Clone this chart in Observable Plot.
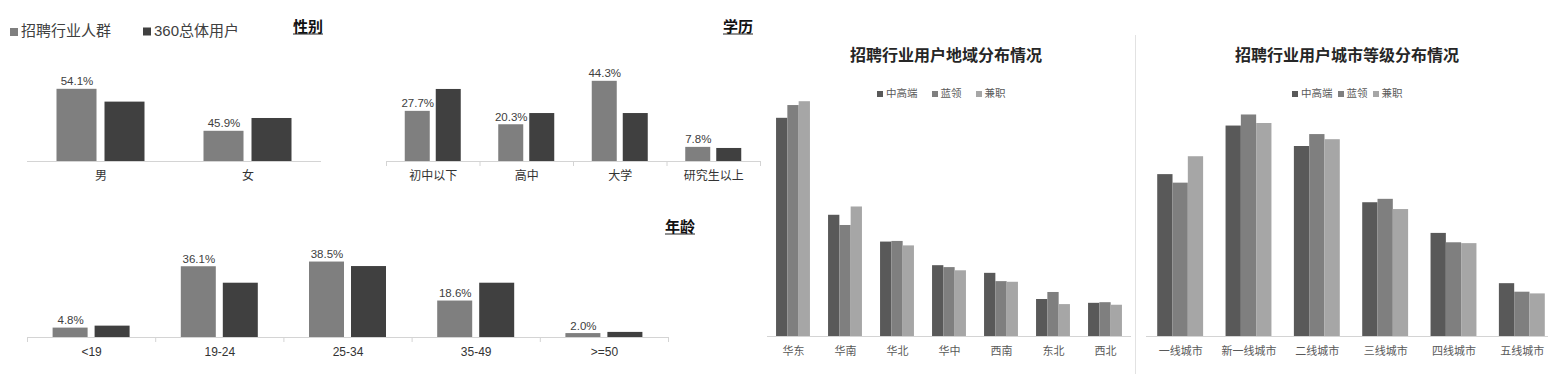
<!DOCTYPE html>
<html><head><meta charset="utf-8">
<script src="https://cdn.jsdelivr.net/npm/d3@7"></script>
<script src="https://cdn.jsdelivr.net/npm/@observablehq/plot@0.6"></script>
<style>
body{margin:0;background:#fff;}
#root{position:relative;width:1548px;height:374px;overflow:hidden;background:#fff;font-family:"Liberation Sans","Noto Sans CJK SC",sans-serif;color:#404040;}
.c{position:absolute;white-space:nowrap;transform:translate(-50%,-50%);line-height:1;}
.l{position:absolute;white-space:nowrap;transform:translate(0,-50%);line-height:1;}
.ttl{font-weight:bold;font-size:15px;color:#111;font-family:"Noto Sans CJK SC",sans-serif;border-bottom:1px solid #222;padding-bottom:1px;}
.big{font-weight:bold;font-size:16px;color:#262626;font-family:"Noto Sans CJK SC",sans-serif;}
.sq{display:inline-block;vertical-align:middle;margin-right:3px;}
.leg{font-family:"Noto Sans CJK SC",sans-serif;}
</style></head>
<body><div id="root"></div>
<script>
// ---------- data ----------
const seriesTop = ["招聘行业人群", "360总体用户"];
const genderCats = ["男", "女"];
const genderRecruit = [54.1, 45.9];
const genderAll = [51.6, 48.4];
const eduCats = ["初中以下", "高中", "大学", "研究生以上"];
const eduRecruit = [27.7, 20.3, 44.3, 7.8];
const eduAll = [39.8, 26.5, 26.5, 7.2];
const ageCats = ["<19", "19-24", "25-34", "35-49", ">=50"];
const ageRecruit = [4.8, 36.1, 38.5, 18.6, 2.0];
const ageAll = [5.8, 27.7, 36.2, 27.7, 2.6];
const jobSeries = ["中高端", "蓝领", "兼职"];
const regionCats = ["华东", "华南", "华北", "华中", "西南", "东北", "西北"];
const regionHigh = [34.2, 19.0, 14.8, 11.1, 9.9, 5.8, 5.2];
const regionBlue = [36.2, 17.4, 14.9, 10.8, 8.6, 6.9, 5.3];
const regionPart = [36.8, 20.3, 14.2, 10.3, 8.5, 5.0, 4.9];
const cityCats = ["一线城市", "新一线城市", "二线城市", "三线城市", "四线城市", "五线城市"];
const cityHigh = [19.0, 24.7, 22.3, 15.7, 12.1, 6.2];
const cityBlue = [18.0, 26.0, 23.7, 16.1, 11.0, 5.2];
const cityPart = [21.1, 25.0, 23.1, 14.9, 10.9, 5.0];

const cRecruit = "#7f7f7f", cAll = "#404040";
const cHigh = "#595959", cBlue = "#7f7f7f", cPart = "#a6a6a6";

const root = document.getElementById("root");

function grouped(cfg) {
  const {cats, series, left, top, width, height, x0, x1, y0, y1, ppu, baseY, bw, gap,
         labelFirst, ticks, fontSize, tickPadding, labelColor} = cfg;
  const n = series.length;
  const W = (x1 - x0) / cats.length;
  const G = n * bw + (n - 1) * gap;
  const start = (W - G) / 2;
  const base = baseY - top;
  const marginTop = base - (y1 - y0) * ppu;
  const marginBottom = height - base;
  const marks = [];
  series.forEach((s, i) => {
    const rows = cats.map((c, j) => ({cat: c, value: s.values[j]}));
    const il = start + i * (bw + gap);
    marks.push(Plot.barY(rows, {x: "cat", y1: () => y0, y2: "value", fill: s.color,
      insetLeft: il, insetRight: W - il - bw}));
    if (i === 0 && labelFirst) {
      marks.push(Plot.text(rows, {x: "cat", y: "value", text: d => d.value.toFixed(1) + "%",
        dx: il + bw / 2 - W / 2, dy: -4, lineAnchor: "bottom", fontSize: 11.5, fill: "#404040"}));
    }
  });
  marks.push(Plot.ruleY([y0], {stroke: "#d4d4d4", strokeWidth: 1.2}));
  if (ticks) {
    marks.push(Plot.ruleX(cats, {x: d => d, y1: () => y0, y2: () => y0, dx: -W / 2, insetBottom: -5, stroke: "#d4d4d4"}));
    marks.push(Plot.ruleX([cats[cats.length - 1]], {x: d => d, y1: () => y0, y2: () => y0, dx: W / 2, insetBottom: -5, stroke: "#d4d4d4"}));
  }
  const svg = Plot.plot({
    width, height, marginTop, marginBottom,
    marginLeft: x0 - left, marginRight: left + width - x1,
    x: {domain: cats, padding: 0, round: false, tickSize: 0, tickPadding, label: null},
    y: {domain: [y0, y1], axis: null},
    style: {background: "transparent", fontSize: fontSize + "px", color: labelColor,
      fontFamily: '"Liberation Sans","Noto Sans CJK SC",sans-serif', overflow: "visible"},
    marks
  });
  svg.style.position = "absolute";
  svg.style.left = left + "px";
  svg.style.top = top + "px";
  svg.style.maxWidth = "none";
  root.appendChild(svg);
}

const two = (a, b) => [{name: seriesTop[0], values: a, color: cRecruit}, {name: seriesTop[1], values: b, color: cAll}];
const three = (a, b, c) => [
  {name: jobSeries[0], values: a, color: cHigh},
  {name: jobSeries[1], values: b, color: cBlue},
  {name: jobSeries[2], values: c, color: cPart}];

// 性别
grouped({cats: genderCats, series: two(genderRecruit, genderAll), left: 0, top: 40, width: 340, height: 160,
  x0: 27, x1: 321, y0: 40, y1: 60, ppu: 5.12, baseY: 161, bw: 40, gap: 8,
  labelFirst: true, ticks: false, fontSize: 12, tickPadding: 10, labelColor: "#333"});
// 学历
grouped({cats: eduCats, series: two(eduRecruit, eduAll), left: 370, top: 40, width: 390, height: 160,
  x0: 386, x1: 760, y0: 0, y1: 50, ppu: 1.81, baseY: 161, bw: 25, gap: 6,
  labelFirst: true, ticks: true, fontSize: 12, tickPadding: 10, labelColor: "#333"});
// 年龄
grouped({cats: ageCats, series: two(ageRecruit, ageAll), left: 0, top: 230, width: 700, height: 140,
  x0: 27, x1: 668, y0: 0, y1: 45, ppu: 1.96, baseY: 337, bw: 35, gap: 7,
  labelFirst: true, ticks: true, fontSize: 12, tickPadding: 10, labelColor: "#333"});
// 地域
grouped({cats: regionCats, series: three(regionHigh, regionBlue, regionPart), left: 760, top: 70, width: 375, height: 300,
  x0: 767, x1: 1131, y0: 0, y1: 40, ppu: 6.38, baseY: 336, bw: 11.3, gap: 0,
  labelFirst: false, ticks: false, fontSize: 11, tickPadding: 11, labelColor: "#595959"});
// 城市等级
grouped({cats: cityCats, series: three(cityHigh, cityBlue, cityPart), left: 1140, top: 70, width: 420, height: 300,
  x0: 1146, x1: 1556, y0: 0, y1: 30, ppu: 8.52, baseY: 336, bw: 15.3, gap: 0,
  labelFirst: false, ticks: false, fontSize: 11, tickPadding: 11, labelColor: "#595959"});

// ---------- html text ----------
function addDiv(cls, x, y, html) {
  const d = document.createElement("div");
  d.className = cls;
  d.style.left = x + "px";
  d.style.top = y + "px";
  d.innerHTML = html;
  root.appendChild(d);
  return d;
}
function sq(color, size) {
  return `<span class="sq" style="width:${size}px;height:${size}px;background:${color}"></span>`;
}
// top-left legend
addDiv("l leg", 10, 29, `${sq(cRecruit, 8)}<span style="font-size:15px;color:#404040">${seriesTop[0]}</span>`);
addDiv("l leg", 143, 29, `${sq(cAll, 8)}<span style="font-size:15px;color:#404040;font-family:'Liberation Sans','Noto Sans CJK SC'">${seriesTop[1]}</span>`);
// small titles
addDiv("c ttl", 308, 26, "性别");
addDiv("c ttl", 738, 26, "学历");
addDiv("c ttl", 680, 226, "年龄");
// big titles
addDiv("c big", 946, 54, "招聘行业用户地域分布情况");
addDiv("c big", 1347, 54, "招聘行业用户城市等级分布情况");
// right legends
function jobLegend(x, y, spacing) {
  const cols = [cHigh, cBlue, cPart];
  const html = jobSeries.map((s, i) =>
    `<span style="margin-right:${spacing}px">${sq(cols[i], 6)}<span style="font-size:10.5px;color:#595959;vertical-align:middle">${s}</span></span>`).join("");
  addDiv("l leg", x, y, html);
}
jobLegend(877, 91, 14);
jobLegend(1292, 91, 5);
// separator
const sep = document.createElement("div");
sep.style.cssText = "position:absolute;left:1135px;top:35px;width:1px;height:339px;background:#e2e2e2";
root.appendChild(sep);
</script></body></html>
